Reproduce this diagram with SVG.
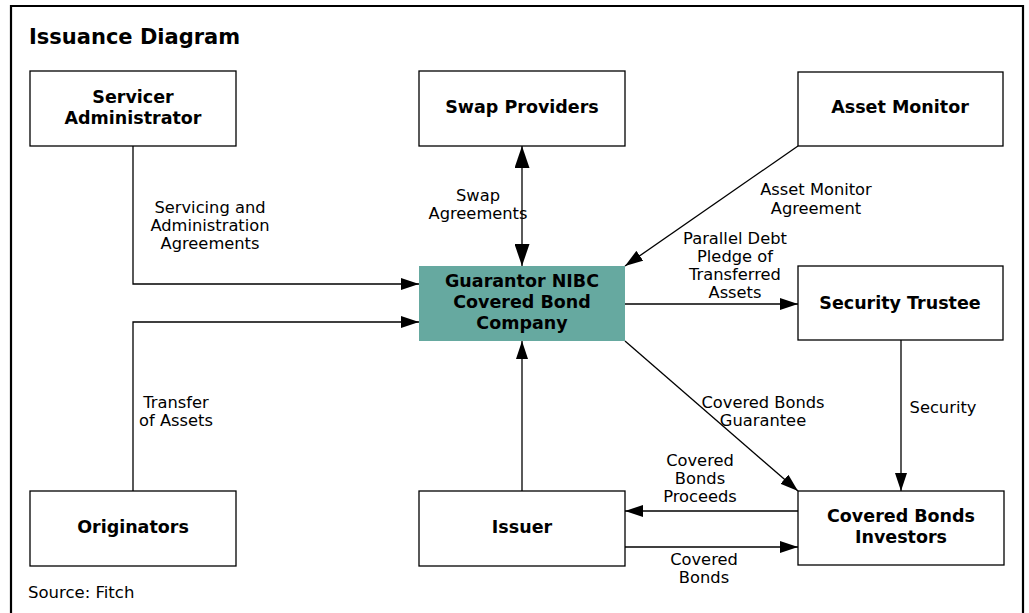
<svg xmlns="http://www.w3.org/2000/svg" width="1029" height="613" viewBox="0 0 1029 613">
<style>
.box{fill:#fff;stroke:#000;stroke-width:1.3}
.teal{fill:#66a9a0;stroke:none}
.nt{font-family:"DejaVu Sans",Verdana,sans-serif;font-weight:bold;font-size:17.5px;text-anchor:middle;fill:#000}
.el{font-family:"DejaVu Sans",Verdana,sans-serif;font-size:16.3px;text-anchor:middle;fill:#000}
.ln{fill:none;stroke:#000;stroke-width:1.3}
</style>
<defs>
<marker id="ah" viewBox="0 0 18 12" refX="18" refY="6" markerWidth="18" markerHeight="12" markerUnits="userSpaceOnUse" orient="auto-start-reverse">
<path d="M0,0 L18,6 L0,12 Z" fill="#000"/>
</marker>
<marker id="ahb" viewBox="0 0 22 15" refX="22" refY="7.5" markerWidth="22" markerHeight="15" markerUnits="userSpaceOnUse" orient="auto-start-reverse">
<path d="M0,0 L22,7.5 L0,15 Z" fill="#000"/>
</marker>
</defs>
<rect x="0" y="0" width="1029" height="613" fill="#fff"/>
<path d="M11,613 V6 H1023 V613" fill="none" stroke="#000" stroke-width="2.2"/>
<text x="29" y="44" font-family="DejaVu Sans,Verdana,sans-serif" font-weight="bold" font-size="21px">Issuance Diagram</text>

<g id="servicer"><rect class="box" x="30" y="71" width="206" height="75"/><text class="nt" x="133" y="103">Servicer</text><text class="nt" x="133" y="124">Administrator</text></g>
<g id="swap"><rect class="box" x="419" y="71" width="206" height="75"/><text class="nt" x="522" y="113">Swap Providers</text></g>
<g id="monitor"><rect class="box" x="798" y="72" width="205" height="74"/><text class="nt" x="900" y="113">Asset Monitor</text></g>
<g id="guarantor"><rect class="teal" x="419" y="266" width="206" height="75"/><text class="nt" x="522" y="287">Guarantor NIBC</text><text class="nt" x="522" y="308">Covered Bond</text><text class="nt" x="522" y="329">Company</text></g>
<g id="trustee"><rect class="box" x="798" y="266" width="205" height="74"/><text class="nt" x="900" y="309">Security Trustee</text></g>
<g id="originators"><rect class="box" x="30" y="491" width="206" height="75"/><text class="nt" x="133" y="533">Originators</text></g>
<g id="issuer"><rect class="box" x="419" y="491" width="206" height="75"/><text class="nt" x="522" y="533">Issuer</text></g>
<g id="investors"><rect class="box" x="798" y="491" width="206" height="74"/><text class="nt" x="901" y="522">Covered Bonds</text><text class="nt" x="901" y="543">Investors</text></g>

<g id="connectors">
<path class="ln" d="M133,146 V284 H419" marker-end="url(#ah)"/>
<path class="ln" d="M133,491 V322 H419" marker-end="url(#ah)"/>
<path class="ln" d="M522,146 V266" marker-start="url(#ahb)" marker-end="url(#ahb)"/>
<path class="ln" d="M798,146 L625,266" marker-end="url(#ah)"/>
<path class="ln" d="M625,304 H798" marker-end="url(#ah)"/>
<path class="ln" d="M625,341 L798,491" marker-end="url(#ah)"/>
<path class="ln" d="M901,340 V491" marker-end="url(#ah)"/>
<path class="ln" d="M522,491 V341" marker-end="url(#ah)"/>
<path class="ln" d="M798,511 H625" marker-end="url(#ah)"/>
<path class="ln" d="M625,547 H798" marker-end="url(#ah)"/>
</g>

<g id="labels">
<text class="el" x="210" y="213">Servicing and</text>
<text class="el" x="210" y="231">Administration</text>
<text class="el" x="210" y="249">Agreements</text>
<text class="el" x="478" y="201">Swap</text>
<text class="el" x="478" y="219">Agreements</text>
<text class="el" x="816" y="195">Asset Monitor</text>
<text class="el" x="816" y="214">Agreement</text>
<text class="el" x="735" y="244">Parallel Debt</text>
<text class="el" x="735" y="262">Pledge of</text>
<text class="el" x="735" y="280">Transferred</text>
<text class="el" x="735" y="298">Assets</text>
<text class="el" x="176" y="408">Transfer</text>
<text class="el" x="176" y="426">of Assets</text>
<text class="el" x="763" y="408">Covered Bonds</text>
<text class="el" x="763" y="426">Guarantee</text>
<text class="el" x="943" y="413">Security</text>
<text class="el" x="700" y="466">Covered</text>
<text class="el" x="700" y="484">Bonds</text>
<text class="el" x="700" y="502">Proceeds</text>
<text class="el" x="704" y="565">Covered</text>
<text class="el" x="704" y="583">Bonds</text>
<text x="28" y="598" font-family="DejaVu Sans,Verdana,sans-serif" font-size="16.5px">Source: Fitch</text>
</g>
</svg>
